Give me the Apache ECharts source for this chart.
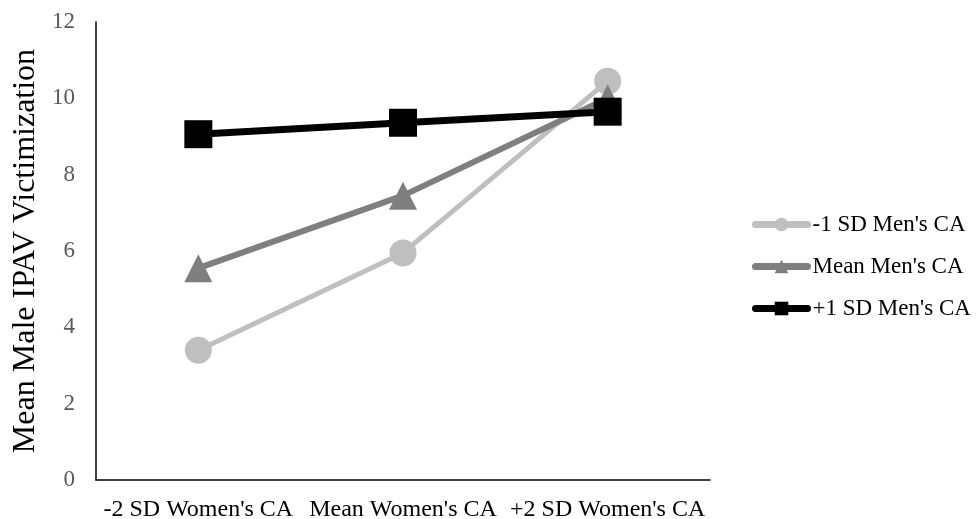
<!DOCTYPE html>
<html>
<head>
<meta charset="utf-8">
<script src="https://cdn.jsdelivr.net/npm/echarts@6/dist/echarts.min.js"></script>
<style>html,body{margin:0;padding:0;background:#fff;}#c{width:976px;height:519px;}</style>
</head>
<body>
<div id="c"></div>
<script>
const categories = ["-2 SD Women's CA", "Mean Women's CA", "+2 SD Women's CA"];
const seriesNames = ["-1 SD Men's CA", "Mean Men's CA", "+1 SD Men's CA"];
const lowMen = [3.4, 5.95, 10.45];
const meanMen = [5.55, 7.45, 10.0];
const highMen = [9.06, 9.36, 9.65];
const yTicks = [0, 2, 4, 6, 8, 10, 12];

const colors = ['#BFBFBF', '#7F7F7F', '#000000'];
const font = "'Liberation Serif', 'Times New Roman', serif";
const chart = echarts.init(document.getElementById('c'), null, {renderer: 'canvas'});
chart.setOption({
  animation: false,
  backgroundColor: '#fff',
  grid: {left: 96, right: 266, top: 22, bottom: 39, containLabel: false, outerBoundsMode: 'none'},
  legend: {
    orient: 'vertical',
    left: 752, top: 213, padding: 0,
    itemWidth: 52, itemHeight: 17, itemGap: 19,
    textStyle: {fontFamily: font, fontSize: 23, color: '#000'},
    data: seriesNames.map((n, i) => ({
      name: n,
      lineStyle: {width: 7, cap: 'round', color: colors[i]},
      itemStyle: {color: colors[i]}
    }))
  },
  xAxis: {
    type: 'category',
    data: categories,
    axisLine: {lineStyle: {color: '#000', width: 1.5}},
    axisTick: {show: false},
    axisLabel: {fontFamily: font, fontSize: 24, color: '#000', margin: 18, interval: 0, hideOverlap: false},
    splitLine: {show: false}
  },
  yAxis: {
    type: 'value',
    min: yTicks[0], max: yTicks[yTicks.length - 1], interval: 2,
    name: 'Mean Male IPAV Victimization',
    nameLocation: 'middle',
    nameGap: 49,
    nameTextStyle: {fontFamily: font, fontSize: 32, color: '#000'},
    axisLine: {show: true, lineStyle: {color: '#000', width: 1.5}},
    axisTick: {show: false},
    axisLabel: {fontFamily: font, fontSize: 23, color: '#595959', margin: 21},
    splitLine: {show: false}
  },
  series: [
    {name: seriesNames[0], type: 'line', data: lowMen, symbol: 'circle', symbolSize: 27,
     lineStyle: {color: colors[0], width: 5}, itemStyle: {color: colors[0]}},
    {name: seriesNames[1], type: 'line', data: meanMen, symbol: 'triangle', symbolSize: 28,
     lineStyle: {color: colors[1], width: 6}, itemStyle: {color: colors[1]}},
    {name: seriesNames[2], type: 'line', data: highMen, symbol: 'rect', symbolSize: 28,
     lineStyle: {color: colors[2], width: 7}, itemStyle: {color: colors[2]}}
  ]
});
</script>
</body>
</html>
